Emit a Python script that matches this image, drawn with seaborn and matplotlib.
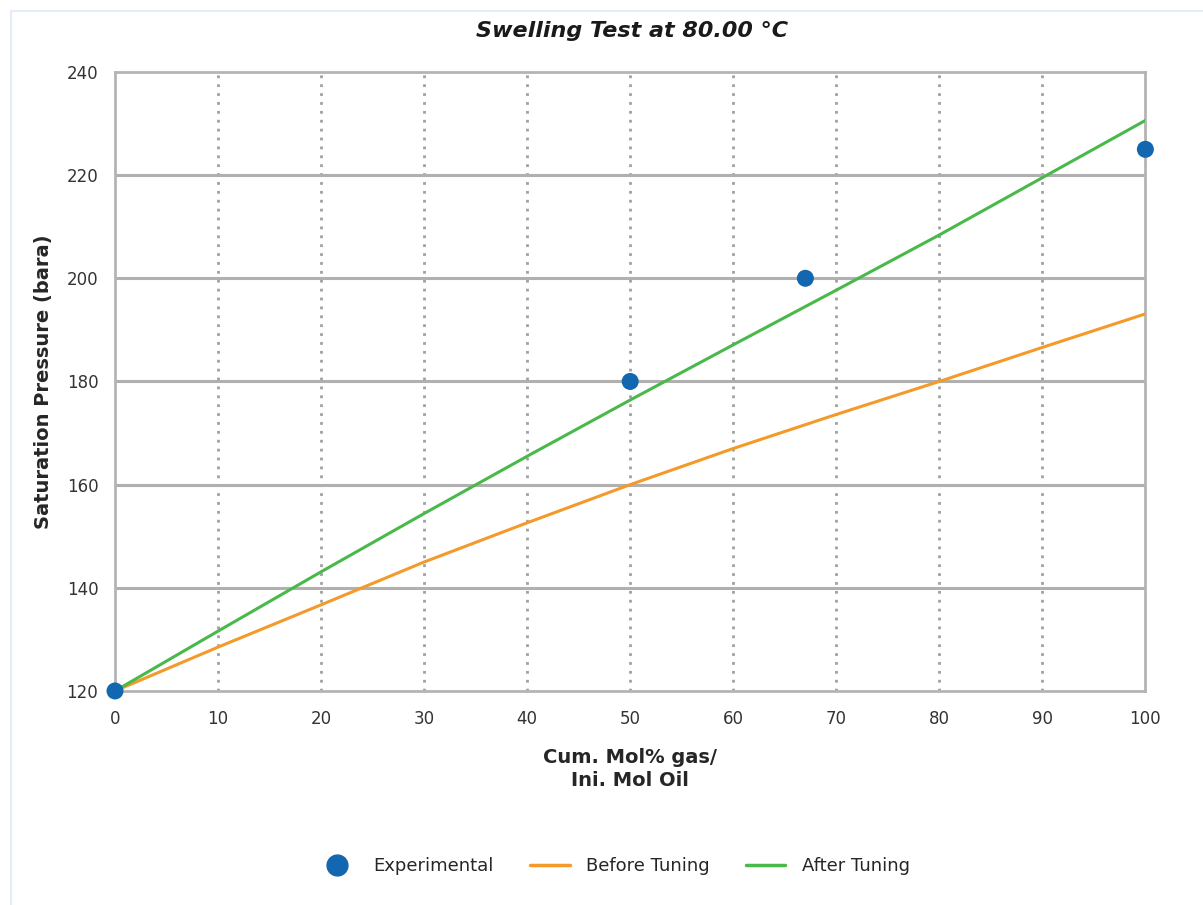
import matplotlib
matplotlib.use("Agg")
import matplotlib.pyplot as plt
import seaborn as sns
import pandas as pd
from matplotlib.ticker import MultipleLocator
from matplotlib.lines import Line2D

exp_x = [0, 50, 67, 100]
exp_y = [120, 180, 200, 225]

model_x = [0, 10, 20, 30, 40, 50, 60, 70, 80, 90, 100]
before_y = [120, 128.5, 136.7, 145.0, 152.6, 160.0, 167.0, 173.6, 180.0, 186.6, 193.1]
after_y = [120, 131.6, 143.1, 154.4, 165.5, 176.4, 187.1, 197.7, 208.4, 219.5, 230.6]

title = "Swelling Test at 80.00 \u00b0C"
xlabel = "Cum. Mol% gas/\nIni. Mol Oil"
ylabel = "Saturation Pressure (bara)"

sns.set_style("white")
plt.rcParams['font.family'] = ['DejaVu Sans']

fig = plt.figure(figsize=(12.03, 9.05), dpi=100)
ax = fig.add_axes([0.0956, 0.2365, 0.8565, 0.684])

df_b = pd.DataFrame({"x": model_x, "y": before_y})
df_a = pd.DataFrame({"x": model_x, "y": after_y})
df_e = pd.DataFrame({"x": exp_x, "y": exp_y})

orange = "#f39a2b"
green = "#48b94a"
blue = "#1366b0"

sns.lineplot(data=df_b, x="x", y="y", ax=ax, color=orange, lw=2.2, zorder=3)
sns.lineplot(data=df_a, x="x", y="y", ax=ax, color=green, lw=2.2, zorder=3)
sns.scatterplot(data=df_e, x="x", y="y", ax=ax, color=blue, s=150, edgecolor="none", zorder=5, clip_on=False)

ax.set_xlim(0, 100)
ax.set_ylim(120, 240)
ax.xaxis.set_major_locator(MultipleLocator(10))
ax.yaxis.set_major_locator(MultipleLocator(20))
ax.xaxis.set_minor_locator(MultipleLocator(1))
ax.yaxis.set_minor_locator(MultipleLocator(2))

ax.grid(False)
for v in model_x[1:-1]:
    ax.axvline(v, color="#a0a0a0", lw=2, ls=(0, (1, 2.2)), zorder=1)
for h in [140, 160, 180, 200, 220]:
    ax.axhline(h, color="#b0b0b0", lw=2.2, zorder=1)

for s in ax.spines.values():
    s.set_color("#b4b4b4")
    s.set_linewidth(2)

ax.tick_params(axis="both", which="major", length=6, width=1, color="#b4b4b4", labelsize=12, labelcolor="#333333", direction="out")
ax.tick_params(axis="both", which="minor", length=4, width=1, color="#c8d8ec", direction="out")
ax.tick_params(axis="x", pad=8)
ax.tick_params(axis="y", pad=6)

ax.set_xlabel(xlabel, fontsize=14, fontweight="bold", labelpad=14, linespacing=1.3)
ax.set_ylabel(ylabel, fontsize=14, fontweight="bold", labelpad=10)
fig.text(0.525, 0.966, title, ha="center", va="center", fontsize=16, fontweight="bold", fontstyle="italic", color="#1a1a1a")

handles = [
    Line2D([], [], marker="o", color=blue, ls="none", markersize=15),
    Line2D([], [], color=orange, lw=2.5),
    Line2D([], [], color=green, lw=2.5),
]
labels = ["Experimental", "Before Tuning", "After Tuning"]
fig.legend(handles, labels, loc="center", bbox_to_anchor=(0.51, 0.043), ncol=3, frameon=False,
           fontsize=13, handlelength=2.2, columnspacing=2.0, handletextpad=0.9)

fig.patches.append(plt.Rectangle((0.009, -0.01), 1.1, 0.998, transform=fig.transFigure,
                                 fill=False, edgecolor="#e3ecf7", lw=1.5))

fig.savefig("out.png", dpi=100, facecolor="white")
